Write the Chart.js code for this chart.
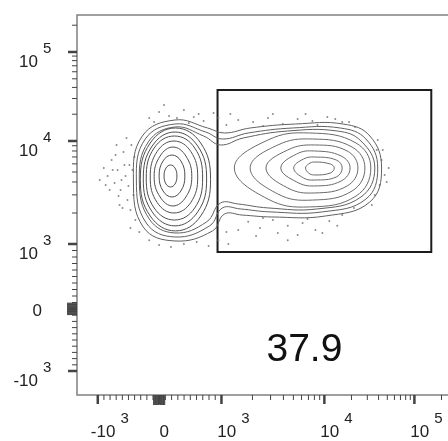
<!DOCTYPE html>
<html>
<head>
<meta charset="utf-8">
<script src="https://cdn.jsdelivr.net/npm/chart.js@4.4.1/dist/chart.umd.min.js"></script>
<style>
  html, body { margin: 0; padding: 0; background: #fff; overflow: hidden; }
  #wrap { width: 448px; height: 441px; overflow: hidden; }
</style>
</head>
<body>
<div id="wrap"><canvas id="myChart" width="456" height="441"></canvas></div>
<script>
// axis ticks (fluorescence units) and their labels
const majorTicks = [-1000, 0, 1000, 10000, 100000];
const tickBase = ['-10', '0', '10', '10', '10'];
const tickPower = ['3', '', '3', '4', '5'];
const decadeSteps = [2, 3, 4, 5, 6, 7, 8, 9];
const linearSteps = [1, 2, 3, 4, 5, 6, 7, 8, 9];

// gate
const gateX = [937, 154000];
const gateY = [877, 37400];
const gatePercent = '37.9';
const gateLabelAt = [6400, -613];

// contour lines, [x, y] pairs
const leftRings = [
  [[286, 4570], [254, 5470], [183, 5850], [111, 5470], [79, 4570], [111, 3820], [183, 3580], [254, 3820]],
  [[413, 4570], [349, 6400], [206, 7310], [63, 6400], [0, 4570], [63, 3270], [206, 2860], [349, 3270]],
  [[524, 4520], [429, 7150], [222, 8740], [16, 7150], [-81, 4520], [16, 2860], [222, 2340], [429, 2860]],
  [[619, 4470], [508, 7910], [238, 10000], [-32, 7910], [-145, 4470], [-32, 2530], [238, 2000], [508, 2530]],
  [[698, 4370], [571, 8550], [246, 11380], [-81, 8550], [-210, 4370], [-81, 2240], [246, 1710], [571, 2240]],
  [[762, 4280], [619, 8940], [254, 12620], [-113, 8940], [-258, 4280], [-113, 2050], [254, 1500], [619, 2050]],
  [[825, 4230], [667, 9560], [262, 14000], [-145, 9560], [-306, 4230], [-145, 1870], [262, 1340], [667, 1870]]
];

const rightRings = [
  [[12880, 5470], [11640, 5980], [8010, 6250], [7015, 5980], [6570, 5470], [7015, 4890], [8010, 4680], [11640, 4890]],
  [[15770, 5470], [13540, 6540], [8010, 6990], [6285, 6690], [5035, 5470], [6285, 4370], [8010, 4180], [13540, 4470]],
  [[19300, 5470], [15380, 7150], [8010, 8000], [5380, 7480], [3775, 5470], [5380, 4000], [8010, 3660], [15380, 4090]],
  [[23600, 5470], [17900, 8000], [8010, 9150], [4405, 8180], [2707, 5470], [4405, 3500], [8010, 3130], [17900, 3660]],
  [[28200, 5470], [20300, 8740], [7660, 10530], [3531, 9150], [1900, 5470], [3531, 3060], [7660, 2670], [20300, 3270]],
  [[32800, 5470], [22460, 9560], [7170, 12300], [2830, 10260], [1334, 5470], [2830, 2730], [7170, 2290], [22460, 2920]]
];

const bridgeRings = [
  [[-323, 4180], [-177, 9780], [254, 14370], [714, 11380], [984, 9150], [1627, 10810], [4405, 12950], [13900, 12950],
   [25510, 10000], [36330, 5470], [25510, 2860], [8560, 2190], [2830, 2240], [1457, 2445], [984, 2500], [762, 1640],
   [254, 1280], [-161, 1750]],
  [[-371, 4180], [-226, 10530], [254, 15520], [746, 12620], [1022, 10530], [1818, 12300], [4920, 14000], [14990, 14000],
   [28940, 10530], [39150, 5470], [28940, 2730], [9570, 2050], [2960, 2050], [1523, 2190], [1022, 2240], [810, 1500],
   [254, 1170], [-210, 1600]],
  [[-419, 4180], [-274, 11380], [254, 17220], [778, 14000], [1069, 12300], [1900, 14000], [5260, 15520], [16180, 15520],
   [32020, 11380], [43200, 5470], [32020, 2560], [10260, 1870], [3090, 1830], [1590, 1910], [1069, 1955], [857, 1340],
   [254, 1070], [-258, 1460]]
];

// single events outside the outer contour
const eventDots = [
  [-903, 5470], [-839, 4570], [-774, 6540], [-726, 3910], [-677, 5230], [-629, 3340], [-581, 7820], [-548, 4570],
  [-516, 2670], [-484, 5850], [-452, 9150], [-468, 2140], [-645, 2390], [-806, 3340], [-532, 10810],
  [-968, 4180], [-871, 3740], [-758, 5230], [-710, 7310], [-661, 2920], [-613, 4180], [-565, 5850], [-500, 3660],
  [-435, 5230], [-419, 2990], [-597, 2240], [-694, 9150], [-403, 6990], [-387, 1710], [-468, 1430],
  [-161, 18130], [0, 21170], [159, 19090], [397, 22300], [556, 18610], [714, 16780], [873, 20640], [1117, 15130],
  [1457, 17220], [79, 25380], [-81, 16350], [286, 18130], [476, 15930], [635, 20090], [952, 18130], [1220, 20090],
  [2030, 16350], [2830, 18130], [3944, 15520], [5496, 17670], [7660, 16780], [10790, 18610], [15770, 16350],
  [21900, 14370], [2534, 14740], [8560, 15130], [3160, 20090], [6570, 20090], [13210, 17670], [18820, 16350],
  [38200, 8180], [43200, 6540], [46700, 4680], [41200, 3740], [51800, 5470], [36330, 2990], [39150, 10260],
  [49200, 4000], [33660, 2390], [44480, 8180],
  [1818, 1640], [2370, 1430], [3160, 1710], [4405, 1500], [6140, 1600], [8190, 1370], [11350, 1670], [15770, 1910],
  [21350, 2240], [1457, 1370], [3531, 1280], [5496, 1220], [2534, 1790], [6860, 1750], [13900, 1500], [2170, 1196],
  [9570, 1280], [4405, 1090],
  [-161, 1090], [0, 985], [190, 954], [397, 1000], [603, 1045], [794, 969], [952, 1090], [-323, 1310], [1117, 1310],
  [1168, 1000]
];

// axis calibration: linear up to 10^3, log beyond
const axisCal = {
  x: { units: [-62, 0, 63, 167, 258], range: [-83, 296] },
  y: { units: [-62, 0, 65, 168, 257], range: [-86, 294] }
};

function axisT(v) {
  const a = Math.abs(v);
  const t = a <= 1000 ? a / 1000 : 1 + Math.log10(a / 1000);
  return v < 0 ? -t : t;
}

class LogicleScale extends Chart.LinearScale {
  static id = 'logicle';
  determineDataLimits() {
    this.min = -2500;
    this.max = 262144;
  }
  buildTicks() {
    return majorTicks.map(v => ({ value: v }));
  }
  unitOf(v) {
    const u = axisCal[this.id].units;
    const ta = majorTicks.map(axisT);
    const t = axisT(v);
    let i = 0;
    while (i < ta.length - 2 && t > ta[i + 1]) i++;
    return u[i] + (t - ta[i]) * (u[i + 1] - u[i]) / (ta[i + 1] - ta[i]);
  }
  getPixelForValue(v) {
    const [lo, hi] = axisCal[this.id].range;
    return this.getPixelForDecimal((this.unitOf(v) - lo) / (hi - lo));
  }
  getValueForPixel(p) {
    let a = -3000, b = 300000;
    for (let k = 0; k < 60; k++) {
      const m = (a + b) / 2;
      const pm = this.getPixelForValue(m);
      const inc = this.isHorizontal() ? pm < p : pm > p;
      if (inc) a = m; else b = m;
    }
    return (a + b) / 2;
  }
}
Chart.register(LogicleScale);

const minorTicks = [];
linearSteps.forEach(m => minorTicks.push(m * 10, -m * 10, m * 100, -m * 100));
decadeSteps.forEach(m => minorTicks.push(m * 1000, m * 10000));
minorTicks.push(200000);

const BASE_FONT = '17px "Liberation Sans", Arial, sans-serif';
const SUP_FONT = '15px "Liberation Sans", Arial, sans-serif';

const plotPainter = {
  id: 'plotPainter',
  afterDatasetUpdate(chart, args) {
    const ds = chart.data.datasets[args.index];
    if (ds.closed && args.meta.dataset) {
      args.meta.dataset._loop = true;
      args.meta.dataset._fullLoop = true;
    }
  },
  afterDraw(chart) {
    const { ctx, chartArea: a, scales: { x, y } } = chart;
    ctx.save();

    // frame
    ctx.strokeStyle = '#808080';
    ctx.lineWidth = 1.5;
    ctx.beginPath();
    ctx.moveTo(a.right, a.top);
    ctx.lineTo(a.left, a.top);
    ctx.lineTo(a.left, a.bottom);
    ctx.lineTo(a.right, a.bottom);
    ctx.stroke();

    // ticks
    ctx.fillStyle = '#444';
    const tick = (v, len, w) => {
      const py = y.getPixelForValue(v);
      if (py >= a.top && py <= a.bottom) ctx.fillRect(a.left - len, py - w / 2, len, w);
      const px = x.getPixelForValue(v);
      if (px >= a.left && px <= a.right) ctx.fillRect(px - w / 2, a.bottom, w, len);
    };
    minorTicks.forEach(v => tick(v, Math.abs(v) < 100 ? 10 : 5, 1));
    majorTicks.forEach(v => tick(v, 9, 2.5));

    // tick labels
    ctx.fillStyle = '#222';
    ctx.textBaseline = 'alphabetic';
    majorTicks.forEach((v, i) => {
      const base = tickBase[i], pow = tickPower[i];
      const py = y.getPixelForValue(v);
      const px = x.getPixelForValue(v);
      ctx.font = BASE_FONT;
      if (!pow) {
        ctx.textAlign = 'right';
        ctx.fillText(base, a.left - 35, py + 7);
        ctx.textAlign = 'center';
        ctx.fillText(base, px + 5, a.bottom + 42);
        return;
      }
      ctx.textAlign = 'right';
      ctx.fillText(base, a.left - 39, py + 15);
      ctx.font = SUP_FONT;
      ctx.textAlign = 'left';
      ctx.fillText(pow, a.left - 34, py + 1);

      ctx.font = BASE_FONT;
      const bw = ctx.measureText(base).width;
      ctx.font = SUP_FONT;
      const sw = ctx.measureText(pow).width;
      const left = px + 12 - (bw + 5 + sw) / 2;
      ctx.font = BASE_FONT;
      ctx.fillText(base, left, a.bottom + 42);
      ctx.font = SUP_FONT;
      ctx.fillText(pow, left + bw + 5, a.bottom + 28);
    });

    // gate frequency
    ctx.font = '39px "Liberation Sans", Arial, sans-serif';
    ctx.fillStyle = '#111';
    ctx.textAlign = 'center';
    ctx.fillText(gatePercent, x.getPixelForValue(gateLabelAt[0]), y.getPixelForValue(gateLabelAt[1]) + 14);
    ctx.restore();
  }
};

const toPoints = pairs => pairs.map(([px, py]) => ({ x: px, y: py }));
const ring = (pairs, color) => ({
  data: toPoints(pairs),
  showLine: true,
  closed: true,
  pointRadius: 0,
  borderWidth: 1,
  borderColor: color,
  tension: 0.42,
  fill: false
});

const ctx = document.getElementById('myChart').getContext('2d');

const myChart = new Chart(ctx, {
  type: 'scatter',
  data: {
    datasets: [
      ...leftRings.map(r => ring(r, '#4e4e4e')),
      ...bridgeRings.map(r => ring(r, '#606060')),
      ...rightRings.map(r => ring(r, '#6a6a6a')),
      {
        data: toPoints(eventDots),
        showLine: false,
        pointRadius: 1,
        pointBorderWidth: 0,
        pointBackgroundColor: '#8c8c8c'
      },
      {
        data: toPoints([[gateX[0], gateY[0]], [gateX[0], gateY[1]], [gateX[1], gateY[1]], [gateX[1], gateY[0]]]),
        showLine: true,
        closed: true,
        pointRadius: 0,
        borderWidth: 2,
        borderColor: '#1c1c1c',
        borderJoinStyle: 'miter',
        tension: 0
      }
    ]
  },
  options: {
    responsive: false,
    animation: false,
    events: [],
    layout: { padding: { top: 15, left: 0, right: 0, bottom: 0 } },
    plugins: {
      legend: { display: false },
      tooltip: { enabled: false }
    },
    scales: {
      x: {
        type: 'logicle',
        position: 'bottom',
        grid: { display: false },
        border: { display: false },
        ticks: { display: false },
        afterFit: s => { s.height = 46; }
      },
      y: {
        type: 'logicle',
        position: 'left',
        grid: { display: false },
        border: { display: false },
        ticks: { display: false },
        afterFit: s => { s.width = 77; }
      }
    }
  },
  plugins: [plotPainter]
});
</script>
</body>
</html>
